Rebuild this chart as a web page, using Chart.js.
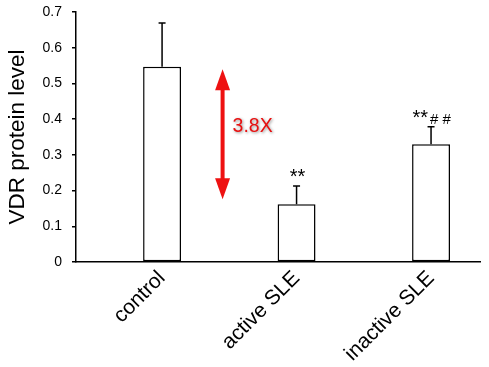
<!DOCTYPE html>
<html>
<head>
<meta charset="utf-8">
<script src="https://cdn.jsdelivr.net/npm/chart.js@4/dist/chart.umd.min.js"></script>
<style>
  html, body { margin: 0; padding: 0; background: #fff; }
  #wrap { width: 489px; height: 367px; }
</style>
</head>
<body>
<div id="wrap"><canvas id="vdrChart"></canvas></div>
<script>
const groups = ["control", "active SLE", "inactive SLE"];
const vdrLevel = [0.547, 0.162, 0.330];
const vdrError = [0.122, 0.051, 0.049];
const sigMarks = ["", "**", "**"];
const hashMarks = ["", "", "# #"];
const yTickLabels = ["0", "0.1", "0.2", "0.3", "0.4", "0.5", "0.6", "0.7"];

// red fold-change arrow between control and active SLE
const foldAt = 0.45;
const foldFrom = 0.54;
const foldTo = 0.176;
const foldText = "3.8X";
const foldTextAt = 0.378;

const extrasPlugin = {
    id: "extras",
    afterDatasetsDraw(chart) {
        const ctx = chart.ctx;
        const x = chart.scales.x;
        const y = chart.scales.y;
        const meta = chart.getDatasetMeta(0);

        ctx.save();
        ctx.strokeStyle = "#000";
        ctx.lineWidth = 1.5;
        meta.data.forEach((bar, i) => {
            const top = y.getPixelForValue(vdrLevel[i]);
            const errTop = y.getPixelForValue(vdrLevel[i] + vdrError[i]);
            ctx.beginPath();
            ctx.moveTo(bar.x, top);
            ctx.lineTo(bar.x, errTop);
            ctx.moveTo(bar.x - 3.5, errTop);
            ctx.lineTo(bar.x + 3.5, errTop);
            ctx.stroke();

            ctx.fillStyle = "#000";
            ctx.textBaseline = "alphabetic";
            if (sigMarks[i]) {
                ctx.font = "20px 'Liberation Sans', Arial, sans-serif";
                ctx.textAlign = hashMarks[i] ? "right" : "center";
                const sx = hashMarks[i] ? bar.x - 3 : bar.x + 1;
                ctx.fillText(sigMarks[i], sx, errTop - 3);
            }
            if (hashMarks[i]) {
                ctx.font = "15px 'Liberation Sans', Arial, sans-serif";
                ctx.textAlign = "left";
                ctx.fillText(hashMarks[i], bar.x - 1, errTop - 2.5);
            }
        });
        ctx.restore();

        // arrow
        const ax = x.getPixelForValue(foldAt);
        const y1 = y.getPixelForValue(foldFrom);
        const y2 = y.getPixelForValue(foldTo);
        const head = 21, half = 7.5;
        ctx.save();
        ctx.fillStyle = "#ee1111";
        ctx.strokeStyle = "#ee1111";
        ctx.lineWidth = 4;
        ctx.beginPath();
        ctx.moveTo(ax, y1 + head - 2);
        ctx.lineTo(ax, y2 - head + 2);
        ctx.stroke();
        ctx.beginPath();
        ctx.moveTo(ax, y1);
        ctx.lineTo(ax - half, y1 + head);
        ctx.lineTo(ax + half, y1 + head);
        ctx.closePath();
        ctx.fill();
        ctx.beginPath();
        ctx.moveTo(ax, y2);
        ctx.lineTo(ax - half, y2 - head);
        ctx.lineTo(ax + half, y2 - head);
        ctx.closePath();
        ctx.fill();

        ctx.font = "19.5px 'Liberation Sans', Arial, sans-serif";
        ctx.textAlign = "left";
        ctx.textBaseline = "middle";
        ctx.shadowColor = "rgba(0,0,0,0.45)";
        ctx.shadowBlur = 3;
        ctx.shadowOffsetX = 1;
        ctx.shadowOffsetY = 1;
        ctx.fillStyle = "#e81010";
        ctx.fillText(foldText, ax + 10, y.getPixelForValue(foldTextAt));
        ctx.restore();
    }
};

new Chart(document.getElementById("vdrChart"), {
    type: "bar",
    data: {
        datasets: [{
            data: vdrLevel.map((v, i) => ({ x: i, y: v })),
            backgroundColor: "#fff",
            borderColor: "#000",
            borderWidth: 1.5,
            borderSkipped: false,
            barPercentage: 0.282,
            categoryPercentage: 1,
        }],
    },
    options: {
        responsive: true,
        maintainAspectRatio: false,
        animation: false,
        layout: { padding: { top: 12, right: 9, left: 0, bottom: 0 } },
        plugins: {
            legend: { display: false },
            tooltip: { enabled: false },
        },
        scales: {
            x: {
                type: "linear",
                min: -0.64,
                max: 2.364,
                offset: false,
                afterFit: (scale) => {
                    scale.height = 105;
                    scale.paddingLeft = 0;
                    scale.paddingRight = 0;
                },
                afterBuildTicks: (scale) => { scale.ticks = groups.map((g, i) => ({ value: i })); },
                grid: { display: false },
                border: { display: true, color: "#000", width: 1.5 },
                ticks: {
                    color: "#000",
                    maxRotation: 45,
                    minRotation: 45,
                    padding: -4,
                    font: { family: "'Liberation Sans', Arial, sans-serif", size: 21 },
                    callback: (value) => groups[value],
                },
            },
            y: {
                min: 0,
                max: 0.7,
                afterFit: (scale) => {
                    scale.width = 76;
                    scale.paddingTop = 0;
                    scale.paddingBottom = 0;
                },
                grid: { display: true, drawOnChartArea: false, drawTicks: true, tickLength: 4, color: "#000", lineWidth: 1.5 },
                border: { display: true, color: "#000", width: 1.5 },
                ticks: {
                    stepSize: 0.1,
                    color: "#000",
                    padding: 10,
                    font: { family: "'Liberation Sans', Arial, sans-serif", size: 14 },
                    callback: (value, index) => yTickLabels[index],
                },
                title: {
                    display: true,
                    text: "VDR protein level",
                    color: "#000",
                    padding: { top: 4, bottom: 0 },
                    font: { family: "'Liberation Sans', Arial, sans-serif", size: 22.5 },
                },
            },
        },
    },
    plugins: [extrasPlugin],
});
</script>
</body>
</html>
